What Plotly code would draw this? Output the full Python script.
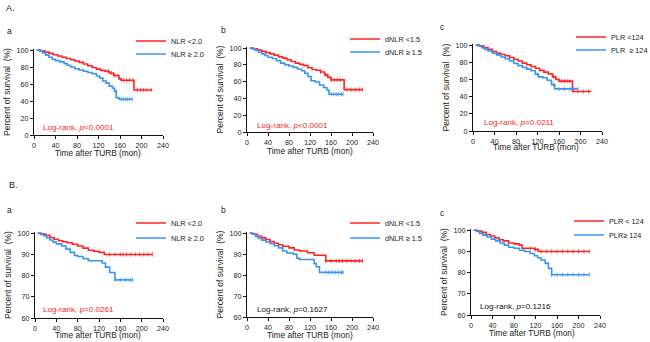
import plotly.graph_objects as go

W, H = 650, 342
RED = "#FF2424"
BLUE = "#3A95F2"

# ---------------- data ----------------
# Panel A-a : NLR
Aa_red_t = [5, 12, 20, 28, 36, 44, 52, 60, 68, 76, 84, 92, 100, 108, 116, 124, 132, 140, 148, 158, 162, 186, 220]
Aa_red_s = [100, 99, 97.5, 96, 94.5, 93, 91.5, 90, 88.5, 87, 85.5, 83.5, 81.5, 79.5, 77.5, 76, 75, 73, 70, 66, 64.5, 53, 53]
Aa_red_c = [138, 144, 150, 156, 166, 172, 178, 184, 192, 198, 204, 210, 218]
Aa_blue_t = [5, 10, 16, 22, 28, 34, 40, 48, 56, 62, 68, 76, 84, 92, 100, 108, 116, 122, 128, 134, 140, 146, 150, 153, 158, 183]
Aa_blue_s = [100, 99, 96.5, 94, 91.5, 89, 87.5, 86, 84, 82, 80, 78, 76.5, 75, 73.5, 72, 69.5, 67, 63.5, 61, 57.5, 55, 52, 44, 42, 42]
Aa_blue_c = [150, 162, 166, 170, 174, 178, 183]

# Panel A-b : dNLR
Ab_red_t = [5, 12, 20, 28, 36, 44, 52, 60, 68, 76, 84, 92, 100, 108, 116, 124, 132, 140, 148, 154, 160, 185, 220]
Ab_red_s = [100, 99, 97.5, 96, 94.5, 93, 91.5, 89.5, 88, 86, 84, 82, 80.5, 79, 76.5, 74.5, 73.5, 71.5, 68, 65, 62, 50.5, 50.5]
Ab_red_c = [140, 150, 160, 166, 172, 178, 190, 198, 206, 214, 220]
Ab_blue_t = [5, 10, 16, 22, 28, 34, 40, 48, 56, 64, 72, 80, 88, 96, 104, 110, 116, 122, 130, 138, 146, 152, 156, 183]
Ab_blue_s = [100, 99, 97, 95, 93, 91, 89, 87.5, 85, 82, 80, 78.5, 77, 75, 73, 70, 66, 61, 59.5, 56, 53, 50, 45, 45]
Ab_blue_c = [160, 165, 170, 175, 180, 183]

# Panel A-c : PLR
Ac_red_t = [5, 12, 20, 28, 36, 44, 52, 60, 68, 76, 84, 92, 100, 108, 116, 124, 132, 140, 148, 154, 160, 185, 220]
Ac_red_s = [100, 99, 97, 95, 92.5, 90.5, 89, 87.5, 85.5, 83.5, 81.5, 79, 77, 75, 73, 70.5, 68.5, 66.5, 63, 60, 58, 46, 46]
Ac_red_c = [150, 165, 170, 175, 180, 195, 205, 215]
Ac_blue_t = [5, 10, 16, 22, 28, 36, 44, 52, 60, 68, 76, 84, 92, 100, 108, 116, 122, 130, 138, 146, 152, 195]
Ac_blue_s = [100, 99, 97, 95, 93, 90.5, 88.5, 86, 84, 81.5, 78.5, 76, 74, 72, 70, 66, 63, 62, 59, 54, 49, 49]
Ac_blue_c = [120, 150, 160, 170, 180, 188, 195]

# Panel B-a : NLR
Ba_red_t = [5, 12, 20, 28, 36, 44, 52, 60, 70, 80, 90, 100, 110, 120, 130, 220]
Ba_red_s = [100, 99.6, 99, 98, 97.2, 96.5, 96, 95.5, 94.8, 94, 93, 92, 91.5, 91, 90, 90]
Ba_red_c = [140, 150, 160, 165, 172, 180, 188, 196, 204, 212, 220]
Ba_blue_t = [5, 10, 16, 22, 28, 34, 40, 50, 58, 66, 74, 80, 90, 100, 126, 132, 140, 150, 183]
Ba_blue_s = [100, 99.5, 98.8, 97.8, 96.8, 95.8, 95, 94, 92.5, 91, 89.5, 89, 88, 87, 86, 84, 81.5, 78, 78]
Ba_blue_c = [150, 160, 170, 178, 183]

# Panel B-b : dNLR
Bb_red_t = [5, 12, 20, 28, 36, 44, 52, 60, 68, 80, 90, 100, 115, 128, 150, 220]
Bb_red_s = [100, 99.5, 98.5, 97.8, 97, 96, 95.2, 94.5, 93.8, 93, 92, 91.5, 90.7, 89.5, 86.8, 86.8]
Bb_red_c = [150, 160, 170, 176, 182, 190, 198, 206, 214, 220]
Bb_blue_t = [5, 10, 16, 22, 28, 36, 44, 52, 60, 68, 76, 88, 95, 100, 128, 132, 138, 183]
Bb_blue_s = [100, 99.5, 98.5, 97.5, 96.7, 95.8, 95, 94, 93, 91.5, 90.6, 90, 88, 87.5, 85.5, 84, 81.3, 81.3]
Bb_blue_c = [150, 156, 162, 168, 174, 180, 183]

# Panel B-c : PLR
Bc_red_t = [5, 12, 20, 28, 36, 44, 52, 60, 70, 80, 90, 95, 118, 125, 220]
Bc_red_s = [100, 99.6, 99, 98, 97.3, 96.5, 95.5, 95, 94, 93.6, 93, 91.5, 91, 90, 90]
Bc_red_c = [110, 120, 130, 140, 150, 160, 170, 180, 190, 200, 210, 220]
Bc_blue_t = [5, 10, 16, 22, 30, 38, 46, 54, 62, 70, 80, 90, 100, 110, 118, 124, 130, 138, 144, 150, 220]
Bc_blue_s = [100, 99.5, 98.5, 97.7, 96.8, 95.8, 95, 94, 93, 92, 91.5, 90.6, 90, 89, 88, 87, 86, 84.5, 82, 79, 79]
Bc_blue_c = [150, 160, 170, 180, 190, 200, 210, 220]

x_ticks = [0, 40, 80, 120, 160, 200, 240]
yA_ticks = [0, 20, 40, 60, 80, 100]
yB_ticks = [60, 70, 80, 90, 100]

legend_labels = [
    ("NLR <2.0", "NLR ≥ 2.0"),
    ("dNLR <1.5", "dNLR ≥ 1.5"),
    ("PLR <124", "PLR\u00a0 ≥ 124"),
    ("NLR <2.0", "NLR ≥ 2.0"),
    ("dNLR <1.5", "dNLR ≥ 1.5"),
    ("PLR < 124", "PLR≥ 124"),
]
logrank_texts = [
    "Log-rank, <i>p</i><0.0001",
    "Log-rank, <i>p</i><0.0001",
    "Log-rank, <i>p</i>=0.0211",
    "Log-rank, p=0.0261",
    "Log-rank, <i>p</i>=0.1627",
    "Log-rank, <i>p</i>=0.1216",
]
logrank_colors = [RED, RED, RED, RED, "#111111", "#111111"]
logrank_pos = [(13, 9), (14.5, 8), (16.5, 10), (12, 64.2), (14.5, 63.6), (13, 64.2)]
panel_letters = ["a", "b", "c", "a", "b", "c"]
x_title = "Time after TURB (mon)"
y_title = "Percent of survival\u00a0 (%)"

# ---------------- layout geometry (pixels) ----------------
areas = [
    (34, 163, 49, 135), (247, 373, 47, 132), (473, 602, 44, 131),
    (35, 163, 232, 318), (247, 373, 232, 317), (471, 600, 229, 315),
]
letter_pos = [(9, 31), (223, 30), (442, 27), (9, 210), (223, 210), (442, 213)]
legend_text_x = [173, 387, 613, 173, 387, 611]
legend_y = [(41, 54), (39, 52), (37, 50), (223, 238), (223, 238), (221, 235)]
xtitle_pos = [(98, 153), (310, 151.5), (536, 147), (98, 335), (310, 335), (532, 333)]

series = [
    ((Aa_red_t, Aa_red_s, Aa_red_c), (Aa_blue_t, Aa_blue_s, Aa_blue_c)),
    ((Ab_red_t, Ab_red_s, Ab_red_c), (Ab_blue_t, Ab_blue_s, Ab_blue_c)),
    ((Ac_red_t, Ac_red_s, Ac_red_c), (Ac_blue_t, Ac_blue_s, Ac_blue_c)),
    ((Ba_red_t, Ba_red_s, Ba_red_c), (Ba_blue_t, Ba_blue_s, Ba_blue_c)),
    ((Bb_red_t, Bb_red_s, Bb_red_c), (Bb_blue_t, Bb_blue_s, Bb_blue_c)),
    ((Bc_red_t, Bc_red_s, Bc_red_c), (Bc_blue_t, Bc_blue_s, Bc_blue_c)),
]

FONT = "Liberation Sans, Arial, sans-serif"


def step_value(ts, ss, t):
    v = ss[0]
    for ti, si in zip(ts, ss):
        if ti <= t:
            v = si
    return v


fig = go.Figure()
layout = dict(
    width=W, height=H, margin=dict(l=0, r=0, t=0, b=0, autoexpand=False),
    paper_bgcolor="white", plot_bgcolor="white",
    font=dict(family=FONT, color="#222222", size=8),
    annotations=[], showlegend=True,
)

for i in range(6):
    n = i + 1
    xa = "x" if n == 1 else f"x{n}"
    ya = "y" if n == 1 else f"y{n}"
    xk = "xaxis" if n == 1 else f"xaxis{n}"
    yk = "yaxis" if n == 1 else f"yaxis{n}"
    x0, x1, yt, yb = areas[i]
    isB = i >= 3
    axis_common = dict(
        showline=True, linecolor="#111111", linewidth=1.2, ticks="outside",
        ticklen=3, tickwidth=1.2, tickcolor="#111111", showgrid=False,
        zeroline=False, automargin=False,
        tickfont=dict(size=7.2, family=FONT, color="#222222"),
    )
    layout[xk] = dict(
        axis_common, domain=[x0 / W, x1 / W], range=[0, 240],
        tickvals=x_ticks, anchor=ya, fixedrange=True,
    )
    layout[yk] = dict(
        axis_common, domain=[1 - yb / H, 1 - yt / H],
        range=[60, 100.6] if isB else [0, 101.2],
        tickvals=yB_ticks if isB else yA_ticks, anchor=xa, fixedrange=True,
        title=dict(text=y_title, font=dict(size=8.5, family=FONT), standoff=4),
    )
    lg = f"legend{2 * i + 1}" if i > 0 else "legend"
    lg2 = f"legend{2 * i + 2}"
    lgx = (legend_text_x[i] - 42) / W
    for j, (lgname, col) in enumerate([(lg, RED), (lg2, BLUE)]):
        ts, ss, cs = series[i][j]
        fig.add_trace(go.Scatter(
            x=ts, y=ss, mode="lines", line=dict(color=col, width=1.6, shape="hv"),
            xaxis=xa, yaxis=ya, name=legend_labels[i][j], legend=lgname,
            hoverinfo="skip",
        ))
        fig.add_trace(go.Scatter(
            x=cs, y=[step_value(ts, ss, c) for c in cs], mode="markers",
            marker=dict(symbol="line-ns", size=3, line=dict(color=col, width=0.8)),
            xaxis=xa, yaxis=ya, showlegend=False, hoverinfo="skip", cliponaxis=False,
        ))
        layout[lgname] = dict(
            x=lgx, y=1 - legend_y[i][j] / H, xanchor="left", yanchor="middle",
            bgcolor="rgba(0,0,0,0)", borderwidth=0, itemwidth=30,
            font=dict(size=7.3, family=FONT, color="#222222"), tracegroupgap=0,
        )
    lx, ly = logrank_pos[i]
    layout["annotations"].append(dict(
        x=lx, y=ly, xref=xa, yref=ya, text=logrank_texts[i], showarrow=False,
        xanchor="left", yanchor="middle",
        font=dict(size=8.1, family=FONT, color=logrank_colors[i]),
    ))
    tx, ty = xtitle_pos[i]
    layout["annotations"].append(dict(
        x=tx / W, y=1 - ty / H, xref="paper", yref="paper", text=x_title,
        showarrow=False, xanchor="center", yanchor="middle",
        font=dict(size=8.3, family=FONT, color="#222222"),
    ))
    px, py = letter_pos[i]
    layout["annotations"].append(dict(
        x=px / W, y=1 - py / H, xref="paper", yref="paper", text=panel_letters[i],
        showarrow=False, xanchor="center", yanchor="middle",
        font=dict(size=8.5, family=FONT, color="#222222"),
    ))

for txt, (px, py) in [("A.", (4, 8)), ("B.", (7, 185))]:
    layout["annotations"].append(dict(
        x=px / W, y=1 - py / H, xref="paper", yref="paper", text=txt,
        showarrow=False, xanchor="left", yanchor="middle",
        font=dict(size=9, family=FONT, color="#222222"),
    ))

fig.update_layout(**layout)
fig.write_html(
    "out.html",
    config={"displayModeBar": False},
    post_script="document.body.style.margin='0';document.body.style.overflow='hidden';",
)
